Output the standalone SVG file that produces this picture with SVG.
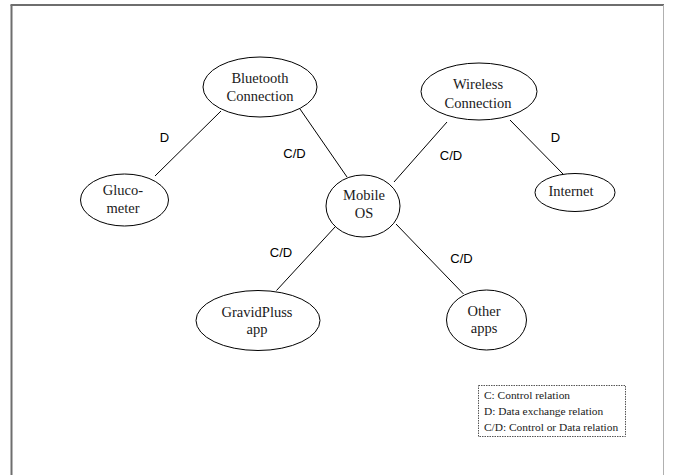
<svg xmlns="http://www.w3.org/2000/svg" width="673" height="475" viewBox="0 0 673 475">
<style>
.node{fill:#fff;stroke:#000;stroke-width:1}
.nt{font-family:"Liberation Serif","Times New Roman",serif;font-size:14.5px;fill:#1a1a1a;text-anchor:middle}
.edge{stroke:#000;stroke-width:1;fill:none}
.lbl{font-family:"Liberation Sans",Arial,sans-serif;font-size:13px;fill:#000;text-anchor:middle}
.leg{font-family:"Liberation Serif","Times New Roman",serif;font-size:11.4px;fill:#1a1a1a}
</style>
<rect width="673" height="475" fill="#fff"/>
<g id="frame">
<line x1="11.5" y1="5" x2="11.5" y2="475" stroke="#6e6e6e" stroke-width="2"/>
<line x1="10.5" y1="5" x2="664" y2="5" stroke="#6e6e6e" stroke-width="2"/>
<line x1="663.5" y1="5" x2="663.5" y2="475" stroke="#b0b0b0" stroke-width="1"/>
</g>
<g id="connectors">
<line class="edge" x1="221" y1="111" x2="155" y2="176"/>
<line class="edge" x1="300" y1="109" x2="347" y2="177"/>
<line class="edge" x1="447" y1="122" x2="394" y2="182"/>
<line class="edge" x1="510" y1="120" x2="563" y2="174"/>
<line class="edge" x1="335" y1="227" x2="276.5" y2="290.5"/>
<line class="edge" x1="396" y1="224" x2="463.5" y2="294"/>
<text class="lbl" x="164.5" y="141.5">D</text>
<text class="lbl" x="294.5" y="158">C/D</text>
<text class="lbl" x="451" y="160">C/D</text>
<text class="lbl" x="555.5" y="141.5">D</text>
<text class="lbl" x="281" y="256.5">C/D</text>
<text class="lbl" x="461.5" y="263">C/D</text>
</g>
<g id="bluetooth">
<ellipse class="node" cx="260" cy="87" rx="57" ry="30"/>
<text class="nt" x="260" y="83">Bluetooth</text>
<text class="nt" x="260" y="101">Connection</text>
</g>
<g id="wireless">
<ellipse class="node" cx="479" cy="91.5" rx="58" ry="28.5"/>
<text class="nt" x="478" y="89">Wireless</text>
<text class="nt" x="478" y="107.5">Connection</text>
</g>
<g id="glucometer">
<ellipse class="node" cx="124.5" cy="200" rx="44" ry="26"/>
<text class="nt" x="123" y="195">Gluco-</text>
<text class="nt" x="123" y="213">meter</text>
</g>
<g id="internet">
<ellipse class="node" cx="575" cy="192.5" rx="40" ry="19"/>
<text class="nt" x="571" y="196">Internet</text>
</g>
<g id="mobile-os">
<ellipse class="node" cx="363" cy="206" rx="37" ry="31"/>
<text class="nt" x="364" y="200">Mobile</text>
<text class="nt" x="364" y="218">OS</text>
</g>
<g id="gravidpluss">
<ellipse class="node" cx="258" cy="320.5" rx="62" ry="30"/>
<text class="nt" x="257" y="317">GravidPluss</text>
<text class="nt" x="257" y="333.5">app</text>
</g>
<g id="other-apps">
<ellipse class="node" cx="486.5" cy="320" rx="40" ry="30"/>
<text class="nt" x="484" y="316">Other</text>
<text class="nt" x="484" y="332.5">apps</text>
</g>
<g id="legend">
<rect x="478.5" y="385.5" width="147" height="51" fill="#fff" stroke="#555" stroke-width="1" stroke-dasharray="1.5,1"/>
<text class="leg" x="484" y="398.5">C: Control relation</text>
<text class="leg" x="484" y="414.5">D: Data exchange relation</text>
<text class="leg" x="484" y="430.5">C/D: Control or Data relation</text>
</g>
</svg>
